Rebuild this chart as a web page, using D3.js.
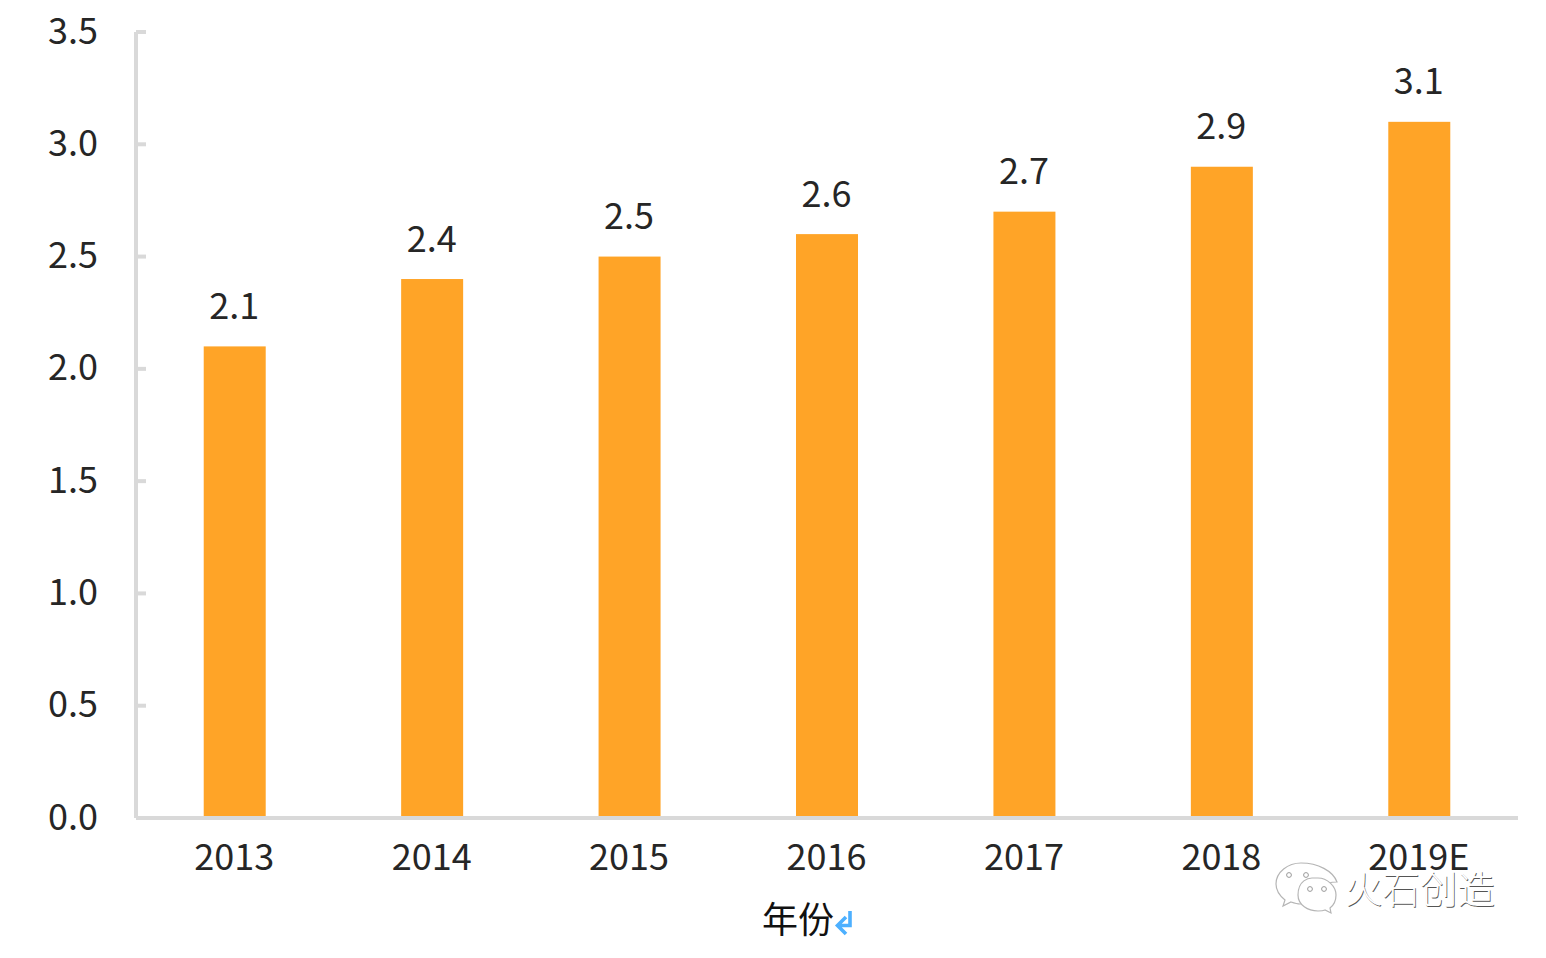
<!DOCTYPE html>
<html lang="zh">

<head>
    <meta charset="UTF-8">
    <title>年份</title>
    <style>
        html, body {
            margin: 0;
            padding: 0;
            background: #fff;
        }
        svg {
            display: block;
        }
        text {
            font-family: "Noto Sans CJK SC", "Noto Sans", sans-serif;
        }
        .axis path, .axis line {
            stroke: #d9d9d9;
            stroke-width: 4;
        }
    </style>
</head>

<body>
<script src="https://d3js.org/d3.v7.min.js"></script>
<script>
    const years = ['2013', '2014', '2015', '2016', '2017', '2018', '2019E']
    const values = [2.1, 2.4, 2.5, 2.6, 2.7, 2.9, 3.1]
    const yTicks = [0, 0.5, 1, 1.5, 2, 2.5, 3, 3.5]
    const xTitle = '年份'
    const watermark = '火石创造'

    const width = 1546
    const height = 958
    const plotLeft = 136
    const plotRight = 1518
    const plotTop = 32
    const plotBottom = 818
    const barColor = '#ffa427'
    const textColor = '#262626'
    const fontSize = 36

    const svg = d3.select('body').append('svg')
        .attr('width', width)
        .attr('height', height)

    const x = d3.scaleBand()
        .domain(years)
        .range([plotLeft, plotRight])
        .paddingInner(0.686)
        .paddingOuter(0.343)

    const y = d3.scaleLinear()
        .domain([0, 3.5])
        .range([plotBottom, plotTop])

    drawBars()
    drawAxes()
    drawLabels()
    drawTitle()
    drawWatermark()

    function drawBars() {
        svg.append('g')
            .selectAll('rect')
            .data(values)
            .enter()
            .append('rect')
            .attr('x', (_, i) => x(years[i]))
            .attr('y', d => y(d))
            .attr('width', x.bandwidth())
            .attr('height', d => y(0) - y(d))
            .attr('fill', barColor)
    }

    function drawAxes() {
        const yAxis = d3.axisLeft(y)
            .tickValues(yTicks)
            .tickFormat(d3.format('.1f'))
            .tickSize(-10)
            .tickSizeOuter(0)
            .tickPadding(38)
            .offset(0)

        svg.append('g')
            .attr('class', 'axis')
            .attr('transform', `translate(${plotLeft}, 0)`)
            .call(yAxis)
            .call(g => g.selectAll('text')
                .attr('fill', textColor)
                .attr('font-size', fontSize)
                .style('font-family', '"Noto Sans CJK SC"'))

        const xAxis = d3.axisBottom(x)
            .tickSize(0)
            .tickPadding(26)
            .offset(0)

        svg.append('g')
            .attr('class', 'axis')
            .attr('transform', `translate(0, ${plotBottom})`)
            .call(xAxis)
            .call(g => g.selectAll('text')
                .attr('dx', -0.5)
                .attr('fill', textColor)
                .attr('font-size', fontSize)
                .style('font-family', '"Noto Sans CJK SC"'))
    }

    function drawLabels() {
        svg.append('g')
            .selectAll('text')
            .data(values)
            .enter()
            .append('text')
            .attr('x', (_, i) => x(years[i]) + x.bandwidth() / 2 - 0.5)
            .attr('y', d => y(d) - 27.5)
            .attr('text-anchor', 'middle')
            .attr('fill', textColor)
            .attr('font-size', fontSize)
            .text(d => d.toFixed(1))
    }

    function drawTitle() {
        svg.append('text')
            .attr('x', 762)
            .attr('y', 933)
            .attr('fill', '#111')
            .attr('font-size', 36)
            .text(xTitle)

        // 换行符号
        svg.append('path')
            .attr('d', 'M850 911V925.5H838M846 917L837.5 925.5L846 934')
            .attr('fill', 'none')
            .attr('stroke', '#4db0ff')
            .attr('stroke-width', 3.6)
    }

    // 右下角水印
    function drawWatermark() {
        const g = svg.append('g')

        const bubble1 = 'M1301 863C1288 863 1276 872 1276 884C1276 891 1280 896 1285 900L1283 906L1291 902C1294 903 1297 904 1300 904C1306 904 1310 902 1310 902C1316 890 1322 882 1337 882C1333 871 1318 863 1301 863Z'
        const bubble2 = 'M1312 878C1309 878 1298 880 1298 895C1298 905 1308 911 1318 911C1321 911 1323 911 1325 910L1331 913L1330 908C1334 905 1336 900 1336 895C1336 886 1327 878 1318 878Z'

        ;[bubble1, bubble2].forEach(d => {
            g.append('path')
                .attr('d', d)
                .attr('fill', '#fff')
                .attr('stroke', '#b5b5b5')
                .attr('stroke-width', 1.2)
        })

        const eyes = [[1289, 875], [1306, 875], [1310, 889], [1324, 889]]
        g.selectAll('circle')
            .data(eyes)
            .enter()
            .append('circle')
            .attr('cx', d => d[0])
            .attr('cy', d => d[1])
            .attr('r', 2.4)
            .attr('fill', '#fff')
            .attr('stroke', '#999')

        g.append('text')
            .attr('x', 1345.8)
            .attr('y', 903.8)
            .attr('font-size', 37.5)
            .attr('font-weight', 300)
            .attr('fill', '#555')
            .text(watermark)

        g.append('text')
            .attr('x', 1345)
            .attr('y', 903)
            .attr('font-size', 37.5)
            .attr('font-weight', 300)
            .attr('fill', '#fff')
            .text(watermark)
    }
</script>

</body>

</html>
